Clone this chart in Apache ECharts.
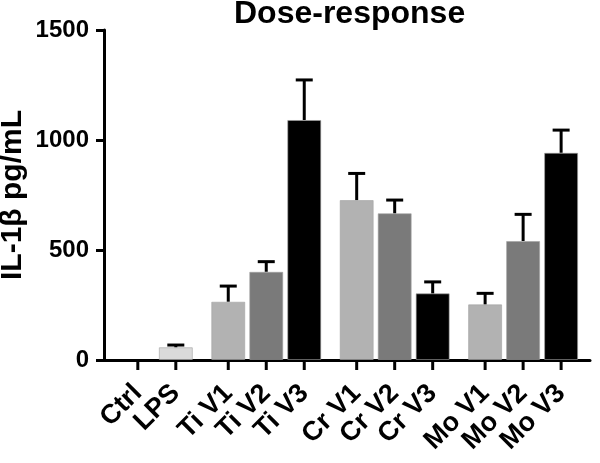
<!DOCTYPE html>
<html><head><meta charset="utf-8">
<script src="https://cdn.jsdelivr.net/npm/echarts@6/dist/echarts.min.js"></script>
<style>html,body{margin:0;padding:0;background:#fff}#c{width:600px;height:463px}</style>
</head><body><div id="c"></div>
<script>
const categories = ['Ctrl','LPS','Ti V1','Ti V2','Ti V3','Cr V1','Cr V2','Cr V3','Mo V1','Mo V2','Mo V3'];
const groupOf   = [0,0,1,1,1,2,2,2,3,3,3];
const levelOf   = [0,0,1,2,3,1,2,3,1,2,3];
const values    = [0,58,265,401,1091,727,667,303,253,541,942];
const errors    = [0,10,71,46,182,121,60,52,50,121,103];
const yTicks    = [0,500,1000,1500];

const levelColors = ['#dadada','#b2b2b2','#7a7a7a','#000000'];
const GAP = 0.38;
const xPos = categories.map((c,i)=> i + groupOf[i]*GAP);

const FONT = 'Liberation Sans';
const chart = echarts.init(document.getElementById('c'));
chart.setOption({
  animation:false,
  backgroundColor:'#fff',
  title:{text:'Dose-response',left:234,top:-2,padding:0,textStyle:{fontFamily:FONT,fontWeight:'bold',fontSize:32,color:'#000'}},
  grid:{left:104,right:10,top:30,bottom:103,outerBoundsMode:'none'},
  xAxis:{
    type:'value',min:-0.89,max:11.9,
    splitLine:{show:false},
    axisLine:{show:true,onZero:false,lineStyle:{color:'#000',width:3}},
    axisTick:{show:false},
    axisLabel:{show:true,customValues:xPos,rotate:45,margin:29,hideOverlap:false,showMinLabel:true,showMaxLabel:true,
      fontFamily:FONT,fontWeight:'bold',fontSize:27,color:'#000',
      formatter:(v)=>{let best=0,d=1e9;xPos.forEach((p,i)=>{if(Math.abs(p-v)<d){d=Math.abs(p-v);best=i;}});return categories[best];}}
  },
  yAxis:{
    type:'value',min:0,max:1500,interval:500,
    name:'IL-1β pg/mL',nameLocation:'middle',nameGap:76,nameMoveOverlap:false,
    nameTextStyle:{fontFamily:FONT,fontWeight:'bold',fontSize:30,color:'#000'},
    splitLine:{show:false},
    axisLine:{show:true,onZero:false,lineStyle:{color:'#000',width:3}},
    axisTick:{show:true,length:8,lineStyle:{color:'#000',width:3}},
    axisLabel:{fontFamily:FONT,fontWeight:'bold',fontSize:24,color:'#000',margin:15,
      formatter:(v)=>String(v)}
  },
  series:[
    {type:'bar',barWidth:34,
      data:values.map((v,i)=>({value:[xPos[i],v],itemStyle:{color:levelColors[levelOf[i]],borderColor:'rgba(160,160,160,0.6)',borderWidth:v>0?1:0}}))},
    {type:'custom',clip:false,
      data:values.map((v,i)=>[xPos[i],v,errors[i]]),
      renderItem:(params,api)=>{
        const x=api.value(0),v=api.value(1),e=api.value(2);
        const p0=api.coord([x,v]),pz=api.coord([x,0]);
        const children=[
          {type:'line',shape:{x1:pz[0],y1:pz[1],x2:pz[0],y2:pz[1]+10},style:{stroke:'#000',lineWidth:3}}
        ];
        if(e){
          const p1=api.coord([x,v+e]);
          const hw=8.5;
          children.push(
            {type:'line',shape:{x1:p0[0],y1:p0[1],x2:p1[0],y2:p1[1]},style:{stroke:'#000',lineWidth:3}},
            {type:'line',shape:{x1:p1[0]-hw,y1:p1[1],x2:p1[0]+hw,y2:p1[1]},style:{stroke:'#000',lineWidth:3}});
        }
        return {type:'group',children};
      },z:3}
  ]
});
</script></body></html>
